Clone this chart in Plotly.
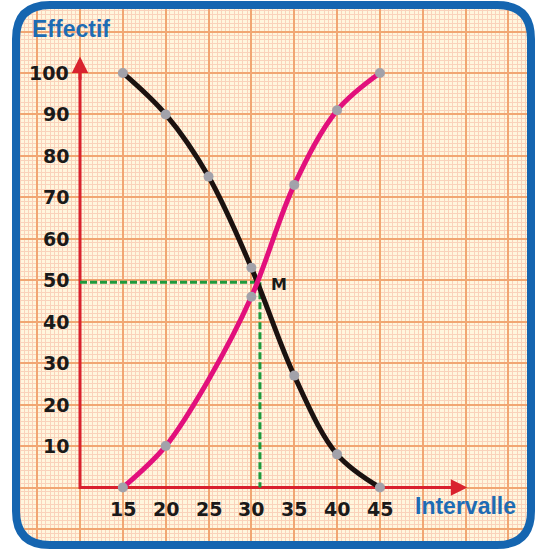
import plotly.graph_objects as go

# cumulative counts
intervalle = [15, 20, 25, 30, 35, 40, 45]
croissant = [0, 10, 26, 46, 73, 91, 100]
decroissant = [100, 90, 75, 53, 27, 8, 0]
# point M where both curves cross
m_x, m_y = 31, 49.5

x_ticks = [15, 20, 25, 30, 35, 40, 45]
y_ticks = [10, 20, 30, 40, 50, 60, 70, 80, 90, 100]

W, H = 536, 549
ML, MR, MT, MB = 16, 5, 5, 3
BLUE = "#1565b0"
RED = "#d9222e"
GRAY = "#a2a2aa"
TICK_FONT = dict(family="DejaVu Sans", size=19, color="#1a1a1a", weight="bold")


def px(p):
    """pixel x -> paper fraction"""
    return (p - ML) / (W - ML - MR)


def py(p):
    """pixel y -> paper fraction"""
    return (H - MB - p) / (H - MT - MB)


fig = go.Figure()

# axis lines (arrow heads come from annotations)
fig.add_trace(go.Scatter(x=[10, 10, 53], y=[101, 0, 0], mode="lines",
                         line=dict(color=RED, width=3), hoverinfo="skip"))

# green dashed reading of M
fig.add_trace(go.Scatter(x=[10, m_x, m_x], y=[m_y, m_y, 0], mode="lines",
                         line=dict(color="#1e9a3c", width=3, dash="7px,3px"),
                         hoverinfo="skip"))

fig.add_trace(go.Scatter(x=intervalle, y=decroissant, mode="lines",
                         line=dict(color="#1b1210", width=5, shape="spline")))
fig.add_trace(go.Scatter(x=intervalle, y=croissant, mode="lines",
                         line=dict(color="#e2107c", width=5, shape="spline")))

# grey dots (the magenta one at 25 is not drawn on the original)
dots_x = intervalle + [x for i, x in enumerate(intervalle) if i != 2]
dots_y = decroissant + [y for i, y in enumerate(croissant) if i != 2]
fig.add_trace(go.Scatter(x=dots_x, y=dots_y, mode="markers",
                         marker=dict(color=GRAY, size=10)))

annotations = []
for v in x_ticks:
    annotations.append(dict(x=v, y=0, text=str(v), showarrow=False,
                            xanchor="center", yanchor="top", yshift=-8,
                            font=TICK_FONT))
for v in y_ticks:
    annotations.append(dict(x=10, y=v, text=str(v), showarrow=False,
                            xanchor="right", yanchor="middle", xshift=-9,
                            font=TICK_FONT))

# arrow heads
annotations.append(dict(x=10, y=104, ax=10, ay=98, axref="x", ayref="y",
                        text="", showarrow=True, arrowhead=2, arrowsize=1.1,
                        arrowwidth=3, arrowcolor=RED, standoff=0))
annotations.append(dict(x=55.2, y=0, ax=50, ay=0, axref="x", ayref="y",
                        text="", showarrow=True, arrowhead=2, arrowsize=1.1,
                        arrowwidth=3, arrowcolor=RED, standoff=0))

annotations.append(dict(x=m_x, y=m_y, text="M", showarrow=False,
                        xanchor="center", yanchor="middle", xshift=19, yshift=-2,
                        font=dict(family="DejaVu Sans", size=16,
                                  color="#1a1a1a", weight="bold")))
annotations.append(dict(x=px(71), y=py(29), xref="paper", yref="paper",
                        xanchor="center", yanchor="middle",
                        text="Effectif", showarrow=False,
                        font=dict(family="Liberation Sans", size=23,
                                  color="#1e6cb4", weight="bold")))
annotations.append(dict(x=px(465), y=py(506), xref="paper", yref="paper",
                        xanchor="center", yanchor="middle",
                        text="Intervalle", showarrow=False,
                        font=dict(family="Liberation Sans", size=23,
                                  color="#1e6cb4", weight="bold")))

# rounded blue frame, with white masks over the grid in the corners
L, R, T, B, r = 16, 531, 5, 545, 34
shapes = []
corners = [
    f"M{px(L)},{py(T + r)} Q{px(L)},{py(T)} {px(L + r)},{py(T)} L{px(L + r)},{py(T - 20)} L{px(L - 20)},{py(T - 20)} L{px(L - 20)},{py(T + r)} Z",
    f"M{px(R - r)},{py(T)} Q{px(R)},{py(T)} {px(R)},{py(T + r)} L{px(R + 20)},{py(T + r)} L{px(R + 20)},{py(T - 20)} L{px(R - r)},{py(T - 20)} Z",
    f"M{px(R)},{py(B - r)} Q{px(R)},{py(B)} {px(R - r)},{py(B)} L{px(R - r)},{py(B + 20)} L{px(R + 20)},{py(B + 20)} L{px(R + 20)},{py(B - r)} Z",
    f"M{px(L + r)},{py(B)} Q{px(L)},{py(B)} {px(L)},{py(B - r)} L{px(L - 20)},{py(B - r)} L{px(L - 20)},{py(B + 20)} L{px(L + r)},{py(B + 20)} Z",
]
for c in corners:
    shapes.append(dict(type="path", xref="paper", yref="paper", path=c,
                       fillcolor="white", line=dict(width=0), layer="above"))
frame = (f"M{px(L + r)},{py(T)} L{px(R - r)},{py(T)} Q{px(R)},{py(T)} {px(R)},{py(T + r)} "
         f"L{px(R)},{py(B - r)} Q{px(R)},{py(B)} {px(R - r)},{py(B)} "
         f"L{px(L + r)},{py(B)} Q{px(L)},{py(B)} {px(L)},{py(B - r)} "
         f"L{px(L)},{py(T + r)} Q{px(L)},{py(T)} {px(L + r)},{py(T)} Z")
shapes.append(dict(type="path", xref="paper", yref="paper", path=frame,
                   line=dict(color=BLUE, width=8), layer="above"))

fig.update_layout(
    width=W, height=H,
    margin=dict(l=ML, r=MR, t=MT, b=MB),
    paper_bgcolor="white",
    plot_bgcolor="#fff6de",
    showlegend=False,
    annotations=annotations,
    shapes=shapes,
)
fig.update_xaxes(range=[2.532, 62.63], tick0=0, dtick=5, showticklabels=False,
                 showgrid=True, gridcolor="#f1a673", gridwidth=2, zeroline=False,
                 minor=dict(tick0=0, dtick=0.5, showgrid=True,
                            gridcolor="#fad2bb", gridwidth=1))
fig.update_yaxes(range=[-14.11, 116.4], tick0=0, dtick=10, showticklabels=False,
                 showgrid=True, gridcolor="#f1a673", gridwidth=2, zeroline=False,
                 minor=dict(tick0=0, dtick=1, showgrid=True,
                            gridcolor="#fad2bb", gridwidth=1))

# the page's default body margin would push the figure out of the window
fig.write_html("out.html", config={"displayModeBar": False},
               post_script="document.body.style.margin='0';")
